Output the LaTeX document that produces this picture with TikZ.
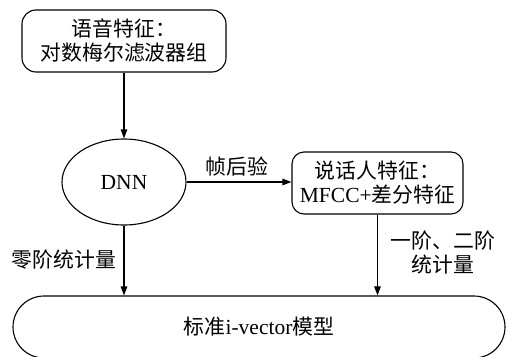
\documentclass[tikz,border=0pt]{standalone}
\usepackage{fontspec}
\setmainfont{Liberation Serif}
\newfontfamily\cjk{Noto Sans CJK SC}[Scale=0.97]
\usetikzlibrary{arrows.meta,shapes.geometric}
\newcommand{\zh}[1]{{\cjk #1}}
\begin{document}
\begin{tikzpicture}[x=1pt,y=1pt,
  font=\fontsize{21.5}{24}\selectfont,
  every node/.style={inner sep=0pt},
  rbox/.style={draw,line width=1.1pt,rounded corners=14pt,align=center},
  conn/.style={line width=1.1pt,-{Triangle[length=9pt,width=6.5pt]}},
  lbl/.style={align=center}]
\useasboundingbox (0,0) rectangle (508,-356);
\clip (0,0) rectangle (508,-356);
\node[rbox,minimum width=204pt,minimum height=62pt] (top) at (124,-41)
  {\zh{语音特征：}\\\zh{对数梅尔滤波器组}};
\node[draw,ellipse,line width=1.1pt,minimum width=124pt,minimum height=86pt] (dnn) at (124,-182) {DNN};
\node[rbox,rounded corners=12pt,minimum width=171pt,minimum height=62pt] (spk) at (377.5,-183)
  {\zh{说话人特征：}\\MFCC+\zh{差分特征}};
\node[draw,line width=1.1pt,rounded corners=31pt,minimum width=492pt,minimum height=62pt] (ivec) at (259,-327)
  {\zh{标准}i-vector\zh{模型}};
\draw[conn] (top) -- (dnn);
\draw[conn] (dnn.east) -- (spk.west |- dnn.east);
\draw[conn] (dnn) -- (dnn |- ivec.north);
\draw[conn] (spk) -- (spk |- ivec.north);
\node[lbl] (l1) at (237,-167) {\zh{帧后验}};
\node[lbl] (l2) at (64,-260) {\zh{零阶统计量}};
\node[lbl] (l3) at (443,-253) {\zh{一阶、二阶}\\\zh{统计量}};
\end{tikzpicture}
\end{document}
